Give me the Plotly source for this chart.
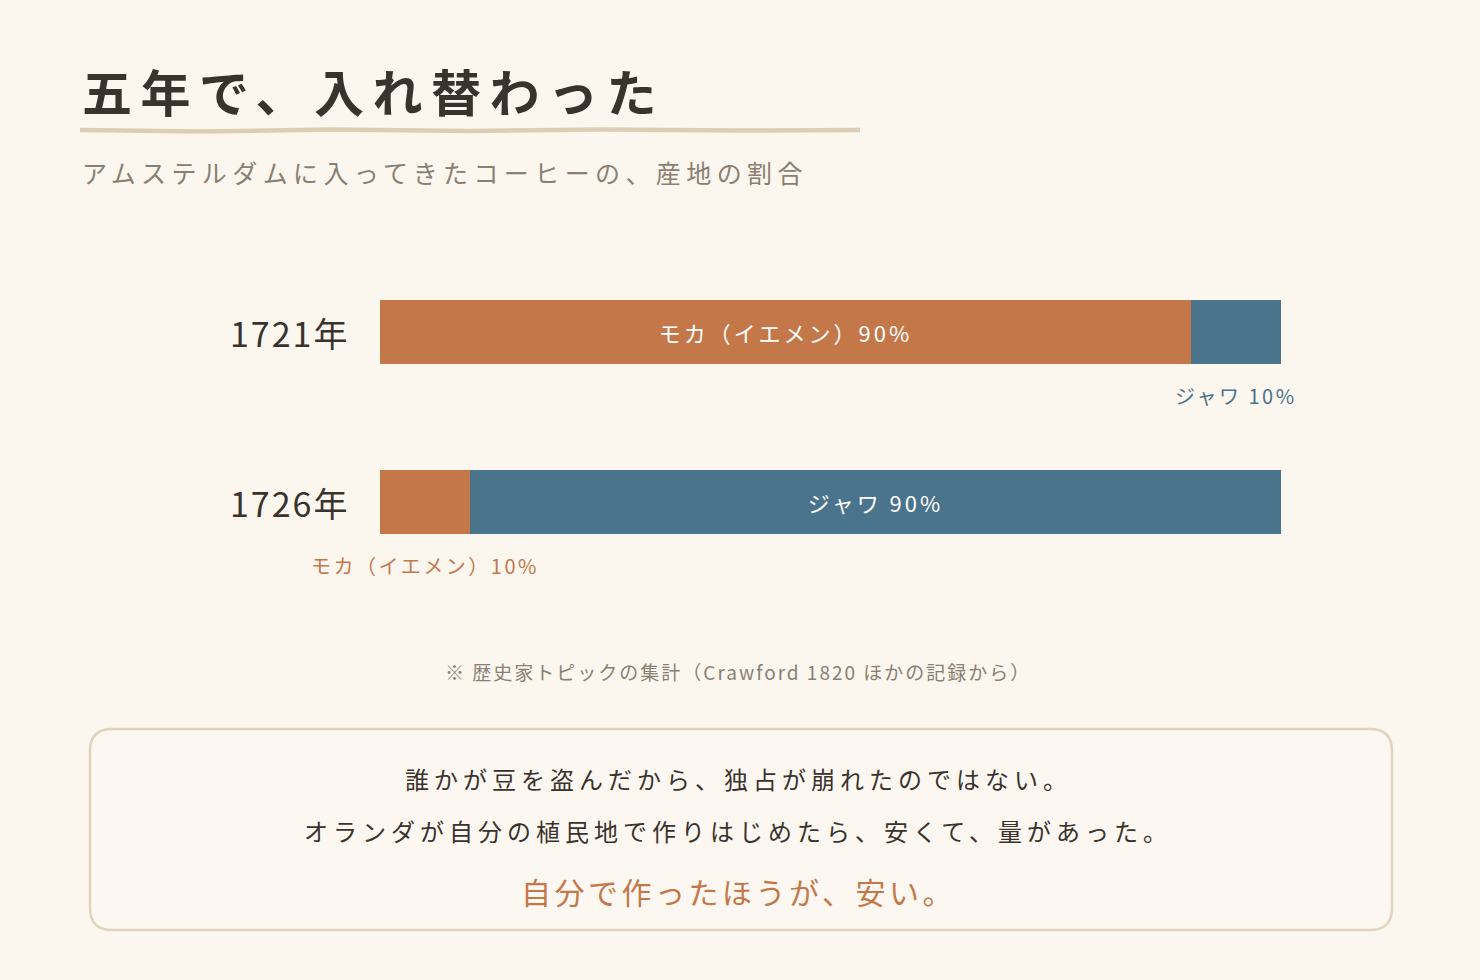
import plotly.graph_objects as go

# データ：アムステルダムに入ってきたコーヒーの産地の割合（%）
years = ["1721年", "1726年"]
mocha = [90, 10]
java = [10, 90]
mocha_name = "モカ（イエメン）"
java_name = "ジャワ"

title = "五年で、入れ替わった"
subtitle = "アムステルダムに入ってきたコーヒーの、産地の割合"
note = "※ 歴史家トピックの集計（Crawford 1820 ほかの記録から）"
message = [
    "誰かが豆を盗んだから、独占が崩れたのではない。",
    "オランダが自分の植民地で作りはじめたら、安くて、量があった。",
    "自分で作ったほうが、安い。",
]

W, H = 1480, 980
BG = "#fbf7ef"
ORANGE = "#c4784a"
BLUE = "#4a738c"
INK = "#3a332d"
GREY = "#8a7f72"
LINE = "#dccdb5"
FONT = "Noto Sans CJK JP"


def px(x):
    return x / W


def py(y):
    return 1 - y / H


def spaced(t, ls):
    # 字間をあける
    return f'<span style="letter-spacing:{ls}px">{t}</span>'


fig = go.Figure()

# 上の年を上に描くため、y は 1721年 -> 1, 1726年 -> 0
ypos = [len(years) - 1 - i for i in range(len(years))]

fig.add_trace(go.Bar(
    y=ypos, x=mocha, orientation="h", name=mocha_name,
    marker=dict(color=ORANGE, line=dict(width=0)),
    text=[spaced(f"{mocha_name}{v}%", 3) if v >= 50 else "" for v in mocha],
    textposition="inside", insidetextanchor="middle",
    textfont=dict(family=FONT, size=22, color="white"),
    width=0.38, hoverinfo="skip",
))
fig.add_trace(go.Bar(
    y=ypos, x=java, orientation="h", name=java_name,
    marker=dict(color=BLUE, line=dict(width=0)),
    text=[spaced(f"{java_name} {v}%", 3) if v >= 50 else "" for v in java],
    textposition="inside", insidetextanchor="middle",
    textfont=dict(family=FONT, size=22, color="white"),
    width=0.38, hoverinfo="skip",
))

# 小さい方の割合はバーの下にラベル
for yy, m, j in zip(ypos, mocha, java):
    if m < 50:
        fig.add_annotation(x=m / 2, y=yy - 0.19, yshift=-15, text=spaced(f"{mocha_name}{m}%", 2.5),
                           showarrow=False, yanchor="top", xref="x", yref="y",
                           font=dict(family=FONT, size=20, color=ORANGE))
    if j < 50:
        fig.add_annotation(x=m + j / 2, y=yy - 0.19, yshift=-15, text=spaced(f"{java_name} {j}%", 2.5),
                           showarrow=False, yanchor="top", xref="x", yref="y",
                           font=dict(family=FONT, size=20, color=BLUE))

# 年のラベル
for yy, label in zip(ypos, years):
    fig.add_annotation(x=px(351), xref="paper", y=yy, yref="y", text=spaced(label, 2),
                       showarrow=False, xanchor="right",
                       font=dict(family=FONT, size=34, color=INK))

# タイトルまわり
fig.add_annotation(x=px(80), y=py(90), xref="paper", yref="paper",
                   text=spaced(f"<b>{title}</b>", 8.5),
                   showarrow=False, xanchor="left", yanchor="middle",
                   font=dict(family=FONT, size=50, color=INK))
fig.add_annotation(x=px(80), y=py(172), xref="paper", yref="paper", text=spaced(subtitle, 5.4),
                   showarrow=False, xanchor="left", yanchor="middle",
                   font=dict(family=FONT, size=25, color=GREY))
fig.add_annotation(x=px(738), y=py(671), xref="paper", yref="paper", text=spaced(note, 2),
                   showarrow=False, xanchor="center", yanchor="middle",
                   font=dict(family=FONT, size=19, color=GREY))

msg_y = [778, 830, 891]
msg_style = [(24, INK, 5), (24, INK, 5), (30, ORANGE, 3.5)]
for t, yv, (sz, col, ls) in zip(message, msg_y, msg_style):
    fig.add_annotation(x=px(738), y=py(yv), xref="paper", yref="paper", text=spaced(t, ls),
                       showarrow=False, xanchor="center", yanchor="middle",
                       font=dict(family=FONT, size=sz, color=col))

# 手書き風の下線
wave = [(80, 130), (200, 131.5), (330, 129.5), (470, 131), (600, 129.5), (740, 130.5), (860, 130)]
path = "M " + " L ".join(f"{px(a)},{py(b)}" for a, b in wave)
fig.add_shape(type="path", path=path, xref="paper", yref="paper",
              line=dict(color=LINE, width=4.5))

# 角の丸い枠
x0, x1, y0, y1, r = 90, 1392, 729, 930, 22
box = (f"M {px(x0 + r)},{py(y0)} L {px(x1 - r)},{py(y0)} "
       f"Q {px(x1)},{py(y0)} {px(x1)},{py(y0 + r)} "
       f"L {px(x1)},{py(y1 - r)} Q {px(x1)},{py(y1)} {px(x1 - r)},{py(y1)} "
       f"L {px(x0 + r)},{py(y1)} Q {px(x0)},{py(y1)} {px(x0)},{py(y1 - r)} "
       f"L {px(x0)},{py(y0 + r)} Q {px(x0)},{py(y0)} {px(x0 + r)},{py(y0)} Z")
fig.add_shape(type="path", path=box, xref="paper", yref="paper",
              line=dict(color="#e2d3bd", width=2.5), fillcolor="#fcf8f1", layer="below")

fig.update_layout(
    width=W, height=H,
    margin=dict(l=0, r=0, t=0, b=0),
    paper_bgcolor=BG, plot_bgcolor=BG,
    barmode="stack", showlegend=False,
    bargap=0,
    xaxis=dict(domain=[px(380), px(1281)], range=[0, 100], visible=False, fixedrange=True),
    yaxis=dict(domain=[py(587), py(247)], range=[-0.5, 1.5], visible=False, fixedrange=True),
    font=dict(family=FONT),
)

fig.write_html("out.html", config={"displayModeBar": False},
               post_script=f"document.body.style.margin='0';document.body.style.background='{BG}';")
